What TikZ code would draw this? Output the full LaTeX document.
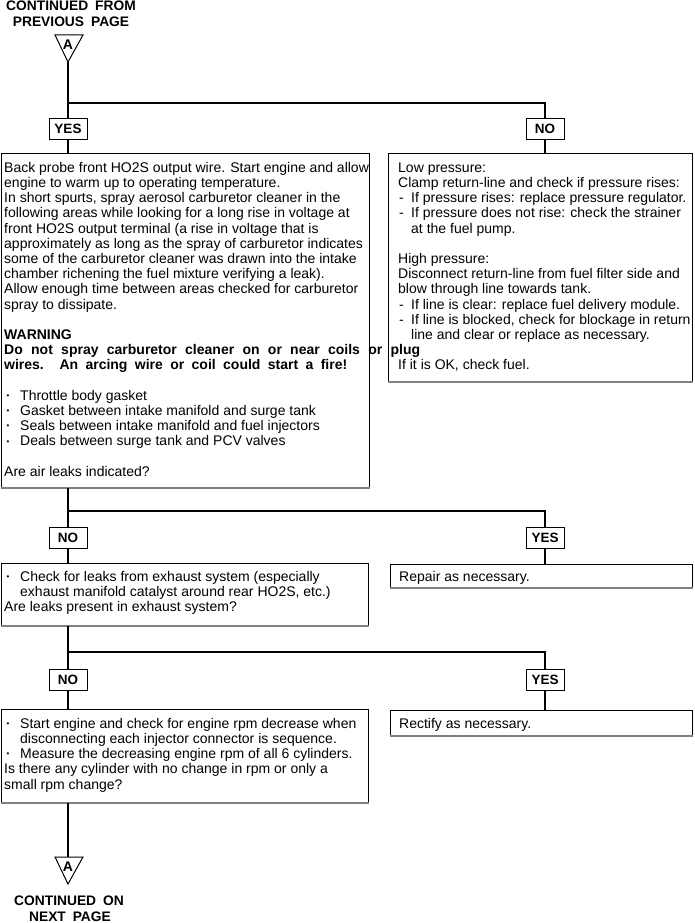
\documentclass[tikz,border=0pt]{standalone}
\usepackage{fontspec}
\setmainfont{Liberation Sans}
\newcommand\bul{\makebox[16pt][l]{\hspace{2.5pt}\raisebox{1.8pt}{\fontsize{8}{8}\selectfont •}}}
\newcommand\dsh{\makebox[13pt][l]{\hspace{1pt}-}}
\newcommand\ind[1][16pt]{\hspace*{#1}}
\tikzset{
  conn/.style={line width=1.3pt},
  boxframe/.style={draw, line width=0.9pt, inner sep=0pt, anchor=north west},
  boxfoot/.style={draw=black!50, line width=1.6pt},
  ynlabel/.style={draw, line width=0.9pt, minimum width=38pt, minimum height=21pt, inner sep=0pt, font=\fontsize{13.5}{14}\selectfont\bfseries},
  bodytext/.style={anchor=north west, inner sep=0pt, align=left, font=\fontsize{14}{15.2}\selectfont},
  title/.style={inner sep=0pt, align=center, font=\fontsize{13.8}{16}\selectfont\bfseries},
  tri/.style={line width=1pt},
  trilabel/.style={inner sep=0pt, font=\fontsize{14}{14}\selectfont\bfseries},
}
\begin{document}
\begin{tikzpicture}[x=1pt,y=-1pt]
\useasboundingbox (0,0) rectangle (694,923);

% top continuation
\node[title, anchor=base] (topt1) at (71,11) {CONTINUED\hspace{0.5em}FROM};
\node[title, anchor=base] (topt2) at (71,27) {PREVIOUS\hspace{0.5em}PAGE};
\draw[tri] (55,35) -- (83,35) -- (68,62) -- cycle;
\node[trilabel] (topA) at (68,44.5) {A};
\coordinate (topapex) at (68,62);
\coordinate (j1) at (68,103);

% labels level 1
\node[ynlabel] (yes1) at (68,129) {YES};
\node[ynlabel] (no1) at (545,129) {NO};

% boxes level 1
\node[boxframe, minimum width=368pt, minimum height=334pt] (b1) at (1,153) {};
\node[boxframe, minimum width=304pt, minimum height=228pt] (r1) at (388,153) {};
\draw[boxfoot] (b1.south west) -- (b1.south east);
\draw[boxfoot] (r1.south west) -- (r1.south east);

\node[bodytext] (b1t) at (4,161.4) {\strut Back probe front HO2S output wire. Start engine and allow\\
engine to warm up to operating temperature.\\
In short spurts, spray aerosol carburetor cleaner in the\\
following areas while looking for a long rise in voltage at\\
front HO2S output terminal (a rise in voltage that is\\
approximately as long as the spray of carburetor indicates\\
some of the carburetor cleaner was drawn into the intake\\
chamber richening the fuel mixture verifying a leak).\\
Allow enough time between areas checked for carburetor\\
spray to dissipate.\\
\mbox{}\\
\textbf{WARNING}\\
\makebox[416pt][s]{\bfseries Do not spray carburetor cleaner on or near coils or plug}\\
\makebox[343pt][s]{\bfseries wires. An arcing wire or coil could start a fire!}\\
\mbox{}\\
\bul Throttle body gasket\\
\bul Gasket between intake manifold and surge tank\\
\bul Seals between intake manifold and fuel injectors\\
\bul Deals between surge tank and PCV valves\\
\mbox{}\\
Are air leaks indicated?};

\node[bodytext] (r1t) at (398,161.4) {\strut Low pressure:\\
Clamp return-line and check if pressure rises:\\
\dsh If pressure rises: replace pressure regulator.\\
\dsh If pressure does not rise: check the strainer\\
\ind[13pt]at the fuel pump.\\
\mbox{}\\
High pressure:\\
Disconnect return-line from fuel filter side and\\
blow through line towards tank.\\
\dsh If line is clear: replace fuel delivery module.\\
\dsh If line is blocked, check for blockage in return\\
\ind[13pt]line and clear or replace as necessary.\\
\mbox{}\\
If it is OK, check fuel.};

% level 2
\coordinate (j2) at (68,511);
\node[ynlabel] (no2) at (68,538) {NO};
\node[ynlabel] (yes2) at (545,538) {YES};
\node[boxframe, minimum width=367pt, minimum height=62pt] (b2) at (1,563) {};
\node[boxframe, minimum width=302pt, minimum height=23pt] (r2) at (390,564) {};
\draw[boxfoot] (b2.south west) -- (b2.south east);
\draw[boxfoot] (r2.south west) -- (r2.south east);
\node[bodytext] (b2t) at (4,570.4) {\strut\bul Check for leaks from exhaust system (especially\\
\ind exhaust manifold catalyst around rear HO2S, etc.)\\
Are leaks present in exhaust system?};
\node[bodytext] (r2t) at (399,570.4) {\strut Repair as necessary.};

% level 3
\coordinate (j3) at (68,652);
\node[ynlabel] (no3) at (68,680) {NO};
\node[ynlabel] (yes3) at (545,680) {YES};
\node[boxframe, minimum width=367pt, minimum height=93pt] (b3) at (1,709) {};
\node[boxframe, minimum width=302pt, minimum height=25pt] (r3) at (390,710) {};
\draw[boxfoot] (b3.south west) -- (b3.south east);
\draw[boxfoot] (r3.south west) -- (r3.south east);
\node[bodytext] (b3t) at (4,717.4) {\strut\bul Start engine and check for engine rpm decrease when\\
\ind disconnecting each injector connector is sequence.\\
\bul Measure the decreasing engine rpm of all 6 cylinders.\\
Is there any cylinder with no change in rpm or only a\\
small rpm change?};
\node[bodytext] (r3t) at (399,717.4) {\strut Rectify as necessary.};

% bottom continuation
\coordinate (bottop) at (68,857);
\draw[tri] (55,857) -- (83,857) -- (68,884) -- cycle;
\node[trilabel] (botA) at (68,866.5) {A};
\node[title, anchor=base] (bott1) at (69,905) {CONTINUED\hspace{0.5em}ON};
\node[title, anchor=base] (bott2) at (70,921) {NEXT\hspace{0.5em}PAGE};

% connectors
\draw[conn] (topapex) -- (yes1.north);
\draw[conn] (j1) -| (no1.north);
\draw[conn] (yes1.south) -- (yes1.south |- b1.north);
\draw[conn] (no1.south) -- (no1.south |- r1.north);
\draw[conn] (no2.north |- b1.south) -- (no2.north);
\draw[conn] (j2) -| (yes2.north);
\draw[conn] (no2.south) -- (no2.south |- b2.north);
\draw[conn] (yes2.south) -- (yes2.south |- r2.north);
\draw[conn] (no3.north |- b2.south) -- (no3.north);
\draw[conn] (j3) -| (yes3.north);
\draw[conn] (no3.south) -- (no3.south |- b3.north);
\draw[conn] (yes3.south) -- (yes3.south |- r3.north);
\draw[conn] (no3.south |- b3.south) -- (bottop);
\end{tikzpicture}
\end{document}
